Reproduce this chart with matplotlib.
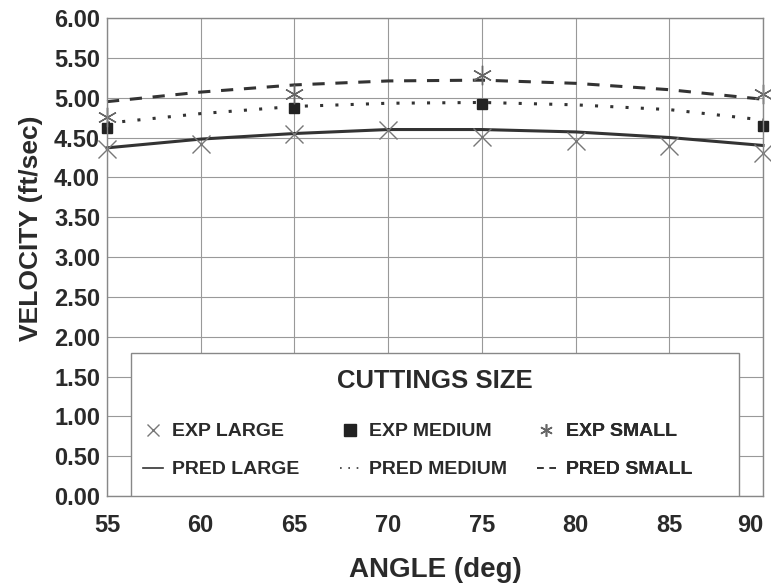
import matplotlib.pyplot as plt
import matplotlib.patches as mpatches
import numpy as np

plt.rcParams['font.family'] = ['Liberation Sans', 'DejaVu Sans']

# experimental points
exp_large_x = [55, 60, 65, 70, 75, 80, 85, 90]
exp_large_y = [4.36, 4.42, 4.54, 4.60, 4.51, 4.45, 4.39, 4.31]
exp_medium_x = [55, 65, 75, 90]
exp_medium_y = [4.62, 4.87, 4.92, 4.64]
exp_small_x = [55, 65, 75, 90]
exp_small_y = [4.76, 5.05, 5.28, 5.05]

# predicted curves
pred_x = [55, 60, 65, 70, 75, 80, 85, 90]
pred_large = [4.37, 4.48, 4.55, 4.60, 4.60, 4.57, 4.50, 4.40]
pred_medium = [4.68, 4.80, 4.89, 4.93, 4.94, 4.91, 4.85, 4.72]
pred_small = [4.95, 5.07, 5.16, 5.21, 5.22, 5.18, 5.10, 4.98]

yticks = np.arange(0, 6.01, 0.5)

txt = '#2a2a2a'
fig = plt.figure(figsize=(7.71, 5.86), dpi=100)
ax = fig.add_axes([107/771, 1-496/586, 656/771, 478/586])

l1, = ax.plot(pred_x, pred_large, color='#333333', lw=2.2, ls='-', label='PRED LARGE')
l2, = ax.plot(pred_x, pred_medium, color='#333333', lw=2.2, ls=(0, (1, 4)), label='PRED MEDIUM')
l3, = ax.plot(pred_x, pred_small, color='#333333', lw=2.2, ls=(0, (4, 3.5)), label='PRED SMALL')
m1, = ax.plot(exp_large_x, exp_large_y, ls='none', marker='x', ms=13, mew=1.0,
              color='#777777', label='EXP LARGE')
m2, = ax.plot(exp_medium_x, exp_medium_y, ls='none', marker='s', ms=7,
              color='#222222', label='EXP MEDIUM')
m3, = ax.plot(exp_small_x, exp_small_y, ls='none', marker=(6, 2, 0), ms=14, mew=1.0,
              color='#666666', label='EXP SMALL')
for a in (l1, l2, l3, m1, m2, m3):
    a.set_clip_on(False)

ax.set_xlim(55, 90)
ax.set_ylim(0, 6)
ax.set_xticks(np.arange(55, 91, 5))
ax.set_yticks(yticks)
ax.set_yticklabels([f'{v:.2f}' for v in yticks])
ax.grid(True, color='#999999', lw=0.8)
for s in ax.spines.values():
    s.set_color('#888888')
    s.set_linewidth(1.0)
ax.tick_params(length=0, labelsize=17, labelcolor=txt)
ax.tick_params(axis='y', pad=5)
ax.tick_params(axis='x', pad=13)
for lab in ax.get_xticklabels() + ax.get_yticklabels():
    lab.set_fontweight('bold')
ax.get_xticklabels()[-1].set_horizontalalignment('right')
ax.get_xticklabels()[-1].set_x(90.3)

ax.set_xlabel('ANGLE (deg)', fontsize=20, fontweight='bold', color=txt)
ax.xaxis.set_label_coords(0.5, -0.128)
ax.set_ylabel('VELOCITY (ft/sec)', fontsize=19, fontweight='bold', color=txt)
ax.yaxis.set_label_coords(-0.097, 0.56)

# legend box
box = mpatches.Rectangle((0.037, 0.0), 0.926, 0.30, transform=ax.transAxes,
                         facecolor='white', edgecolor='#888888', lw=1.0, zorder=5)
ax.add_patch(box)
ax.text(0.50, 0.24, 'CUTTINGS SIZE', transform=ax.transAxes, ha='center', va='center',
        fontsize=18.5, fontweight='bold', color=txt, zorder=6)

groups = [((m1, l1), 0.055), ((m2, l2), 0.355), ((m3, l3), 0.655)]
for handles, xpos in groups:
    leg = ax.legend(handles=list(handles), loc='center left', bbox_to_anchor=(xpos, 0.095),
                    frameon=False, handlelength=1.0, handletextpad=0.5,
                    borderaxespad=0, borderpad=0, labelspacing=1.05,
                    prop={'size': 14, 'weight': 'bold'})
    for t in leg.get_texts():
        t.set_color(txt)
    for h in leg.legend_handles:
        if h.get_marker() not in (None, 'None', ''):
            h.set_markersize(9)
        else:
            h.set_linewidth(1.2)
    leg.set_zorder(7)
    ax.add_artist(leg)

fig.savefig('out.png', dpi=100)
